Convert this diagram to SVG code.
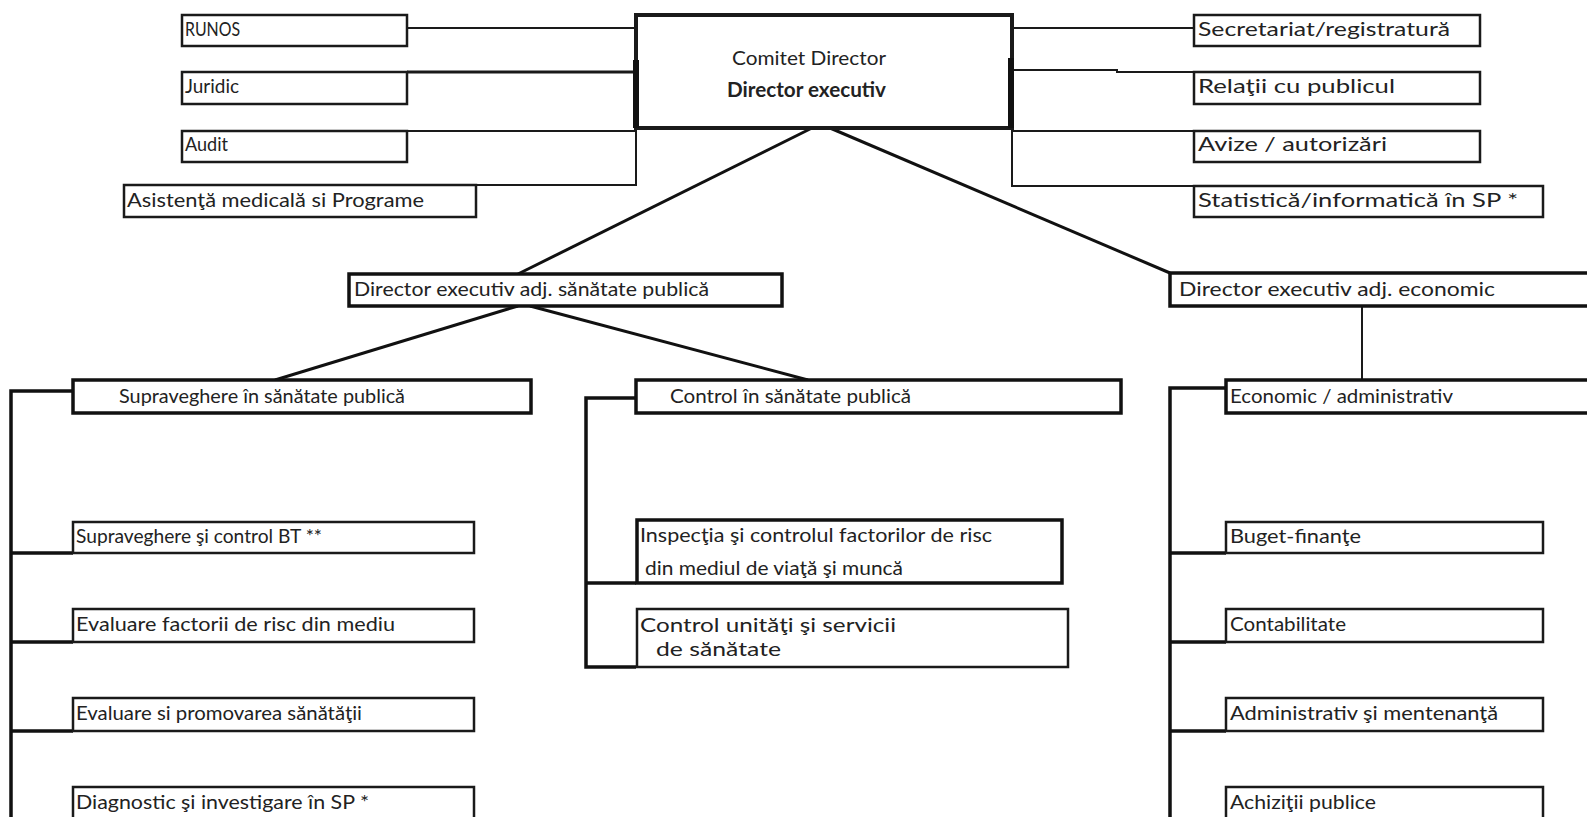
<svg xmlns="http://www.w3.org/2000/svg" width="1587" height="817" viewBox="0 0 1587 817">
<style>
.bx{fill:#fff;stroke:#1a1a1a;stroke-width:2.5}
.bk{fill:#fff;stroke:#111;stroke-width:3.5}
.ln{fill:none;stroke:#1a1a1a;stroke-width:2}
.th{fill:none;stroke:#111;stroke-width:3.5}
text{font-family:Lato,"Liberation Sans",sans-serif;font-size:20px;fill:#222}
.b{font-weight:bold}
</style>
<rect width="1587" height="817" fill="#fff"/>
<g id="connectors">
<line class="ln" x1="407" y1="28" x2="636" y2="28"/>
<line class="ln" x1="407" y1="72" x2="636" y2="72" style="stroke-width:3"/>
<line class="ln" x1="406" y1="72" x2="406" y2="95" style="stroke-width:4"/>
<line class="ln" x1="407" y1="131" x2="636" y2="131"/>
<polyline class="ln" points="636,128 636,185 476,185"/>
<line class="ln" x1="1012" y1="28" x2="1194" y2="28"/>
<polyline class="ln" points="1012,70 1117,70 1117,72 1194,72"/>
<line class="ln" x1="1012" y1="131" x2="1194" y2="131"/>
<polyline class="ln" points="1012,128 1012,186 1543,186"/>
<line class="th" x1="812" y1="128" x2="518" y2="274" style="stroke-width:3"/>
<line class="th" x1="830" y1="128" x2="1170" y2="273" style="stroke-width:3"/>
<line class="th" x1="518" y1="306" x2="275" y2="380" style="stroke-width:3"/>
<line class="th" x1="530" y1="306" x2="808" y2="380" style="stroke-width:3"/>
<line class="ln" x1="1362" y1="306" x2="1362" y2="380"/>
<polyline class="th" points="73,391 11,391 11,817"/>
<line class="th" x1="11" y1="553" x2="73" y2="553"/>
<line class="th" x1="11" y1="642" x2="73" y2="642"/>
<line class="th" x1="11" y1="731" x2="73" y2="731"/>
<polyline class="th" points="636,398 586,398 586,667 636,667"/>
<line class="th" x1="586" y1="583" x2="636" y2="583"/>
<polyline class="th" points="1226,388 1170,388 1170,817"/>
<line class="th" x1="1170" y1="553" x2="1226" y2="553"/>
<line class="th" x1="1170" y1="642" x2="1226" y2="642"/>
<line class="th" x1="1170" y1="731" x2="1226" y2="731"/>
</g>
<g id="runos"><rect class="bx" x="182" y="15" width="225" height="31"/><text x="185" y="36" textLength="55" lengthAdjust="spacingAndGlyphs">RUNOS</text></g>
<g id="juridic"><rect class="bx" x="182" y="72" width="225" height="32"/><text x="185" y="93" textLength="54" lengthAdjust="spacingAndGlyphs">Juridic</text></g>
<g id="audit"><rect class="bx" x="182" y="131" width="225" height="31"/><text x="185" y="151" textLength="43" lengthAdjust="spacingAndGlyphs">Audit</text></g>
<g id="asistenta"><rect class="bx" x="124" y="185" width="352" height="32"/><text x="127" y="207" textLength="297" lengthAdjust="spacingAndGlyphs">Asistenţă medicală si Programe</text></g>
<g id="comitet"><rect class="bx" x="636" y="15" width="376" height="113" style="stroke-width:4"/><line x1="636" y1="60" x2="636" y2="128" stroke="#111" stroke-width="6"/><line x1="1011" y1="58" x2="1011" y2="128" stroke="#111" stroke-width="6"/><text x="732" y="65" textLength="154" lengthAdjust="spacingAndGlyphs">Comitet  Director</text><text class="b" x="727" y="97" textLength="159" lengthAdjust="spacingAndGlyphs">Director executiv</text></g>
<g id="secretariat"><rect class="bx" x="1194" y="15" width="286" height="31"/><text x="1198" y="36" textLength="252" lengthAdjust="spacingAndGlyphs">Secretariat/registratură</text></g>
<g id="relatii"><rect class="bx" x="1194" y="72" width="286" height="32"/><text x="1198" y="93" textLength="197" lengthAdjust="spacingAndGlyphs">Relaţii cu publicul</text></g>
<g id="avize"><rect class="bx" x="1194" y="131" width="286" height="31"/><text x="1198" y="151" textLength="189" lengthAdjust="spacingAndGlyphs">Avize / autorizări</text></g>
<g id="statistica"><rect class="bx" x="1194" y="186" width="349" height="31"/><text x="1198" y="207" textLength="320" lengthAdjust="spacingAndGlyphs">Statistică/informatică în SP *</text></g>
<g id="dir-sp"><rect class="bk" x="349" y="274" width="433" height="32"/><text x="354" y="296" textLength="355" lengthAdjust="spacingAndGlyphs">Director executiv adj. sănătate publică</text></g>
<g id="dir-ec"><rect class="bk" x="1170" y="273" width="430" height="33"/><text x="1179" y="296" textLength="316" lengthAdjust="spacingAndGlyphs">Director executiv adj. economic</text></g>
<g id="supraveghere"><rect class="bk" x="73" y="380" width="458" height="33"/><text x="119" y="403" textLength="286" lengthAdjust="spacingAndGlyphs">Supraveghere în sănătate publică</text></g>
<g id="control"><rect class="bk" x="636" y="380" width="485" height="33"/><text x="670" y="403" textLength="241" lengthAdjust="spacingAndGlyphs">Control în sănătate publică</text></g>
<g id="economic"><rect class="bk" x="1226" y="380" width="370" height="33"/><text x="1230" y="403" textLength="223" lengthAdjust="spacingAndGlyphs">Economic / administrativ</text></g>
<g id="bt"><rect class="bx" x="73" y="522" width="401" height="31"/><text x="76" y="543" textLength="246" lengthAdjust="spacingAndGlyphs">Supraveghere şi control  BT **</text></g>
<g id="factori"><rect class="bx" x="73" y="609" width="401" height="33"/><text x="76" y="631" textLength="319" lengthAdjust="spacingAndGlyphs">Evaluare factorii de risc din mediu</text></g>
<g id="promovare"><rect class="bx" x="73" y="698" width="401" height="33"/><text x="76" y="720" textLength="286" lengthAdjust="spacingAndGlyphs">Evaluare si promovarea sănătăţii</text></g>
<g id="diagnostic"><rect class="bx" x="73" y="787" width="401" height="40"/><text x="76" y="809" textLength="293" lengthAdjust="spacingAndGlyphs">Diagnostic şi investigare în SP *</text></g>
<g id="inspectia"><rect class="bk" x="637" y="520" width="425" height="63"/><text x="640" y="542" textLength="352" lengthAdjust="spacingAndGlyphs">Inspecţia şi controlul factorilor de risc</text><text x="645" y="575" textLength="258" lengthAdjust="spacingAndGlyphs">din mediul de viaţă şi muncă</text></g>
<g id="control-unitati"><rect class="bx" x="637" y="609" width="431" height="58"/><text x="640" y="632" textLength="256" lengthAdjust="spacingAndGlyphs">Control unităţi şi servicii</text><text x="656" y="656" textLength="125" lengthAdjust="spacingAndGlyphs">de sănătate</text></g>
<g id="buget"><rect class="bx" x="1226" y="522" width="317" height="31"/><text x="1230" y="543" textLength="131" lengthAdjust="spacingAndGlyphs">Buget-finanţe</text></g>
<g id="contabilitate"><rect class="bx" x="1226" y="609" width="317" height="33"/><text x="1230" y="631" textLength="116" lengthAdjust="spacingAndGlyphs">Contabilitate</text></g>
<g id="administrativ"><rect class="bx" x="1226" y="698" width="317" height="33"/><text x="1230" y="720" textLength="268" lengthAdjust="spacingAndGlyphs">Administrativ şi mentenanţă</text></g>
<g id="achizitii"><rect class="bx" x="1226" y="787" width="317" height="40"/><text x="1230" y="809" textLength="146" lengthAdjust="spacingAndGlyphs">Achiziţii publice</text></g>
</svg>
